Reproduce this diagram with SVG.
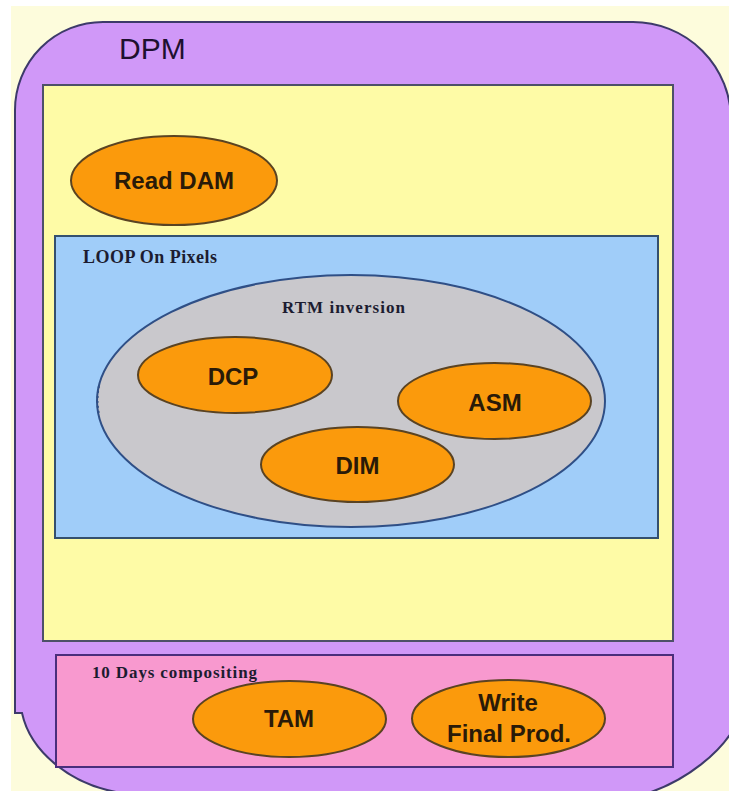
<svg xmlns="http://www.w3.org/2000/svg" width="729" height="791" viewBox="0 0 729 791">
<style>
.box{stroke-width:2}
.oval{fill:#fb9a0c;stroke:#5a4322;stroke-width:2}
.lbl{font-family:"Liberation Sans",Arial,sans-serif;font-size:24px;font-weight:bold;fill:#2a1a08;text-anchor:middle}
.ser{font-family:"Liberation Serif","Times New Roman",serif;font-weight:bold;fill:#1c1c30}
</style>
<rect x="0" y="0" width="729" height="791" fill="#fdfcdc"/>
<rect x="0" y="0" width="729" height="6" fill="#ffffff"/>
<rect x="0" y="0" width="11" height="791" fill="#ffffff"/>

<g id="dpm">
<path d="M15,713 L15,110 A88,88 0 0 1 103,22 L633,22 A98,98 0 0 1 731,120 L731,733 C720,750 690,780 645,794 L130,794 C70,788 30,750 22,713 Z" fill="#d098f8" stroke="#3d3a6a" stroke-width="2"/>
<text x="119" y="59" font-family="'Liberation Sans',Arial,sans-serif" font-size="30" fill="#1e1030">DPM</text>
</g>

<g id="main-loop">
<rect class="box" x="43" y="85" width="630" height="556" fill="#fefba6" stroke="#4d5068"/>
</g>

<g id="read-dam">
<ellipse class="oval" cx="174" cy="180.5" rx="103" ry="44.5"/>
<text class="lbl" x="174" y="189">Read DAM</text>
</g>

<g id="loop-on-pixels">
<rect class="box" x="55" y="236" width="603" height="302" fill="#a0cdf9" stroke="#34506e"/>
<text class="ser" x="83" y="263" font-size="18" textLength="134">LOOP On Pixels</text>
</g>

<g id="rtm-inversion">
<ellipse cx="351" cy="401" rx="254" ry="126" fill="#c9c8cc" stroke="#2f4f86" stroke-width="2"/>
<path d="M99,386 Q96,400 99,414" fill="none" stroke="#2f4f86" stroke-width="2" stroke-dasharray="2 3"/>
<text class="ser" x="282" y="313" font-size="17" textLength="123">RTM inversion</text>
</g>

<g id="dcp">
<ellipse class="oval" cx="235" cy="375" rx="97" ry="38"/>
<text class="lbl" x="233" y="385">DCP</text>
</g>

<g id="asm">
<ellipse class="oval" cx="494.5" cy="401" rx="96.5" ry="38"/>
<text class="lbl" x="495" y="411">ASM</text>
</g>

<g id="dim">
<ellipse class="oval" cx="357.5" cy="464.5" rx="96.5" ry="37.5"/>
<text class="lbl" x="357.5" y="474">DIM</text>
</g>

<g id="compositing">
<rect class="box" x="56" y="655" width="617" height="112" fill="#f899cf" stroke="#4a2e7c"/>
<text class="ser" x="92" y="678" font-size="17" textLength="165">10 Days compositing</text>
</g>

<g id="tam">
<ellipse class="oval" cx="289.5" cy="719" rx="96.5" ry="38"/>
<text class="lbl" x="289" y="727">TAM</text>
</g>

<g id="write-final">
<ellipse class="oval" cx="508.5" cy="718.5" rx="96.5" ry="38.5"/>
<text class="lbl" x="508" y="711">Write</text>
<text class="lbl" x="509" y="742">Final Prod.</text>
</g>

<g id="connectors"></g>
</svg>
